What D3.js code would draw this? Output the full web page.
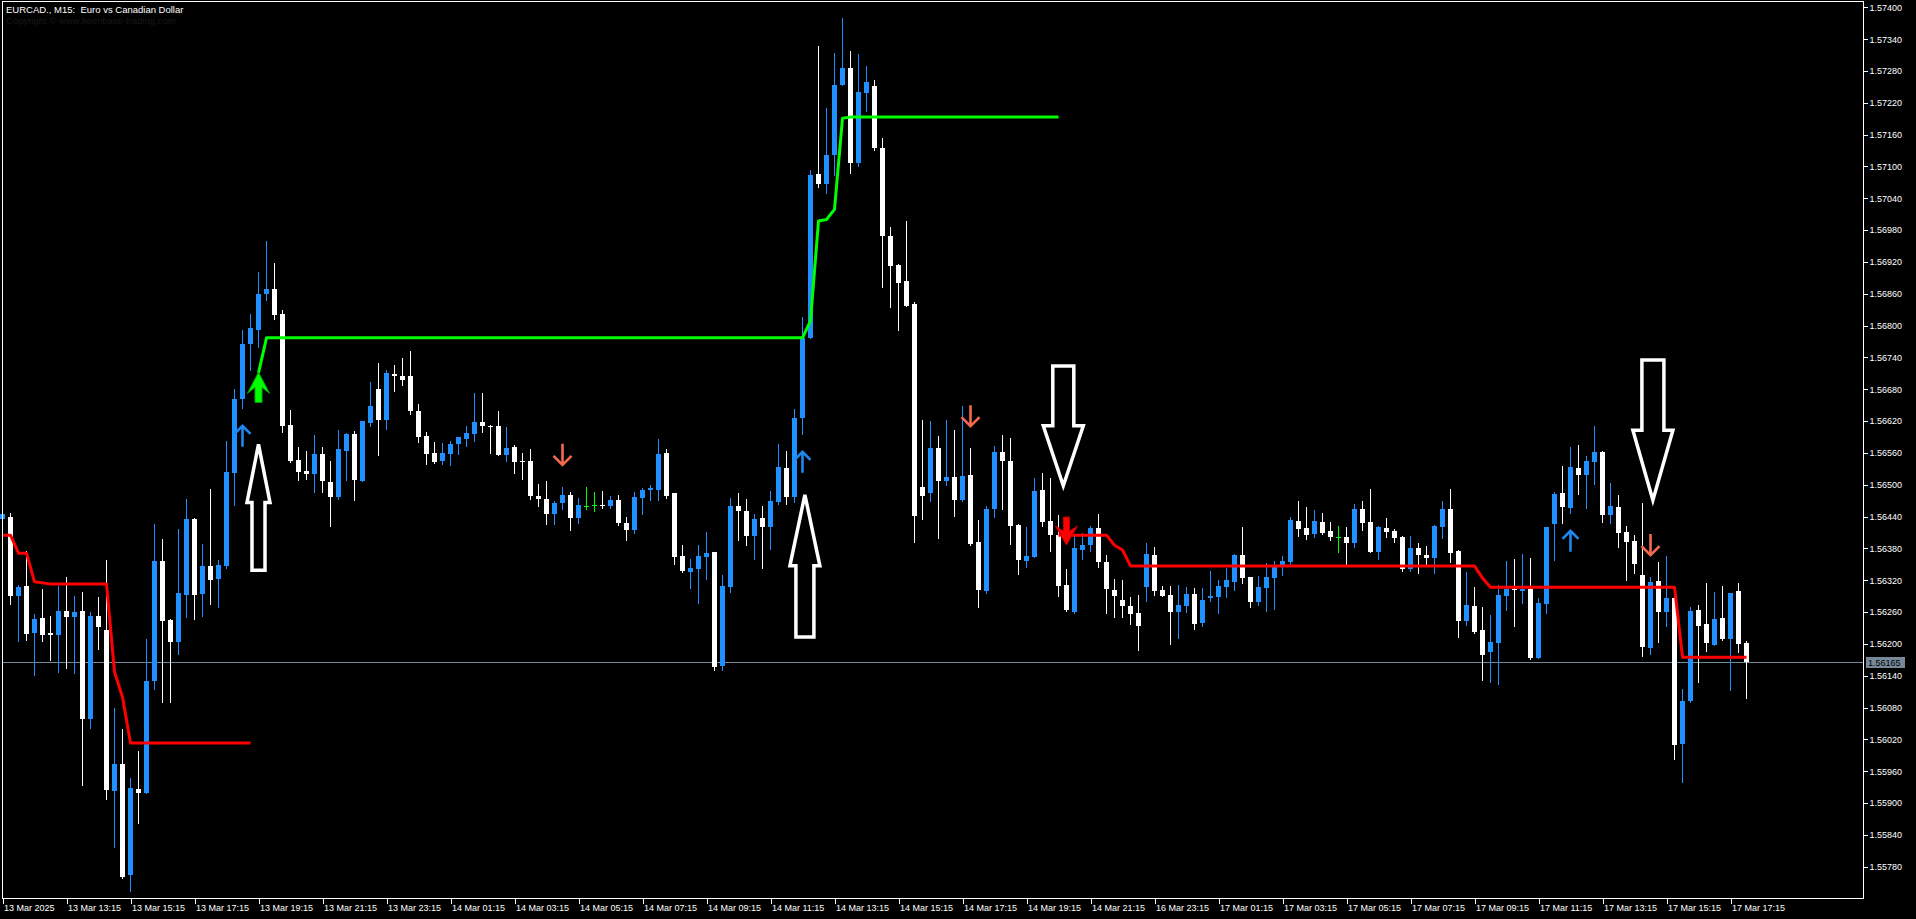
<!DOCTYPE html>
<html><head><meta charset="utf-8">
<script src="https://cdn.jsdelivr.net/npm/d3@7"></script>
<style>html,body{margin:0;padding:0;background:#000;overflow:hidden}text{font-family:"Liberation Sans",Arial,sans-serif}</style>
</head><body><svg id="c" width="1916" height="919"></svg>
<script>
const symbolTitle = "EURCAD., M15:  Euro vs Canadian Dollar";
const copyrightText = "Copyright \u00a9 www.keenbase-trading.com";
const opens = [
1.56435,1.56439,1.56290,1.56309,1.56221,1.56249,1.56221,1.56217,1.56262,1.56251,
1.56262,1.56058,1.56253,1.56226,1.55923,1.55974,1.55764,1.55926,1.55919,1.56130,
1.56356,1.56245,1.56204,1.56292,1.56435,1.56294,1.56347,1.56322,1.56347,1.56522,
1.56662,1.56765,1.56791,1.56860,1.56869,1.56822,1.56613,1.56547,1.56526,1.56520,
1.56558,1.56505,1.56477,1.56564,1.56596,1.56507,1.56617,1.56680,1.56622,1.56709,
1.56705,1.56705,1.56639,1.56592,1.56560,1.56545,1.56558,1.56577,1.56586,1.56596,
1.56618,1.56611,1.56611,1.56556,1.56571,1.56545,1.56545,1.56479,1.56473,1.56445,
1.56466,1.56481,1.56437,1.56460,1.56462,1.56462,1.56460,1.56471,1.56428,1.56415,
1.56475,1.56490,1.56490,1.56560,1.56484,1.56366,1.56335,1.56341,1.56364,1.56373,
1.56158,1.56307,1.56460,1.56450,1.56403,1.56437,1.56420,1.56467,1.56532,1.56477,
1.56626,1.56777,1.57086,1.57067,1.57122,1.57254,1.57286,1.57107,1.57238,1.57252,
1.57135,1.56969,1.56914,1.56884,1.56841,1.56496,1.56484,1.56569,1.56507,1.56515,
1.56471,1.56518,1.56392,1.56300,1.56454,1.56562,1.56545,1.56424,1.56356,1.56364,
1.56490,1.56432,1.56405,1.56311,1.56260,1.56377,1.56386,1.56418,1.56354,1.56302,
1.56283,1.56271,1.56258,1.56307,1.56367,1.56302,1.56292,1.56260,1.56271,1.56294,
1.56239,1.56287,1.56288,1.56307,1.56317,1.56367,1.56326,1.56279,1.56305,1.56324,
1.56345,1.56354,1.56432,1.56418,1.56407,1.56430,1.56413,1.56401,1.56401,1.56390,
1.56454,1.56430,1.56373,1.56418,1.56413,1.56401,1.56341,1.56381,1.56367,1.56362,
1.56420,1.56454,1.56375,1.56243,1.56271,1.56226,1.56185,1.56202,1.56290,1.56304,
1.56300,1.56304,1.56174,1.56275,1.56426,1.56484,1.56456,1.56532,1.56518,1.56543,
1.56562,1.56443,1.56458,1.56411,1.56394,1.56330,1.56192,1.56318,1.56260,1.56287,
1.56011,1.56092,1.56264,1.56237,1.56198,1.56249,1.56209,1.56300,1.56202];
const highs = [
1.56452,1.56447,1.56311,1.56375,1.56257,1.56304,1.56253,1.56309,1.56326,1.56290,
1.56298,1.56260,1.56288,1.56358,1.56079,1.56040,1.55947,1.55998,1.56209,1.56426,
1.56398,1.56246,1.56417,1.56473,1.56437,1.56388,1.56492,1.56358,1.56582,1.56680,
1.56792,1.56822,1.56901,1.56960,1.56918,1.56829,1.56641,1.56571,1.56564,1.56594,
1.56571,1.56545,1.56604,1.56598,1.56602,1.56621,1.56694,1.56729,1.56716,1.56726,
1.56739,1.56752,1.56652,1.56600,1.56581,1.56579,1.56582,1.56590,1.56611,1.56673,
1.56673,1.56613,1.56639,1.56609,1.56575,1.56560,1.56567,1.56501,1.56507,1.56469,
1.56496,1.56486,1.56475,1.56496,1.56486,1.56488,1.56479,1.56481,1.56439,1.56486,
1.56494,1.56499,1.56586,1.56567,1.56485,1.56386,1.56360,1.56386,1.56411,1.56374,
1.56330,1.56475,1.56484,1.56473,1.56445,1.56460,1.56488,1.56577,1.56564,1.56643,
1.56816,1.57094,1.57327,1.57210,1.57314,1.57380,1.57318,1.57312,1.57289,1.57263,
1.57154,1.56986,1.56916,1.56997,1.56844,1.56622,1.56620,1.56592,1.56622,1.56603,
1.56648,1.56569,1.56433,1.56460,1.56573,1.56594,1.56588,1.56426,1.56420,1.56513,
1.56522,1.56513,1.56443,1.56341,1.56403,1.56409,1.56422,1.56445,1.56367,1.56322,
1.56320,1.56288,1.56292,1.56390,1.56383,1.56309,1.56309,1.56311,1.56307,1.56305,
1.56305,1.56337,1.56320,1.56343,1.56369,1.56420,1.56327,1.56328,1.56352,1.56356,
1.56366,1.56439,1.56469,1.56458,1.56452,1.56447,1.56430,1.56422,1.56420,1.56464,
1.56469,1.56492,1.56422,1.56437,1.56416,1.56403,1.56403,1.56390,1.56384,1.56424,
1.56469,1.56492,1.56377,1.56335,1.56307,1.56270,1.56255,1.56311,1.56356,1.56360,
1.56369,1.56362,1.56286,1.56420,1.56486,1.56535,1.56571,1.56575,1.56554,1.56611,
1.56563,1.56503,1.56481,1.56422,1.56405,1.56466,1.56326,1.56354,1.56366,1.56288,
1.56115,1.56270,1.56273,1.56315,1.56298,1.56309,1.56296,1.56315,1.56205];
const lows = [
1.56430,1.56275,1.56206,1.56208,1.56142,1.56206,1.56170,1.56147,1.56155,1.56145,
1.55934,1.56041,1.56190,1.55908,1.55817,1.55759,1.55734,1.55862,1.55918,1.56115,
1.56090,1.56090,1.56181,1.56251,1.56247,1.56253,1.56275,1.56270,1.56343,1.56462,
1.56645,1.56716,1.56759,1.56848,1.56812,1.56600,1.56543,1.56509,1.56511,1.56486,
1.56486,1.56422,1.56473,1.56509,1.56471,1.56507,1.56611,1.56556,1.56605,1.56677,
1.56688,1.56633,1.56581,1.56539,1.56541,1.56539,1.56537,1.56558,1.56573,1.56582,
1.56600,1.56560,1.56556,1.56545,1.56522,1.56511,1.56473,1.56460,1.56426,1.56426,
1.56454,1.56414,1.56428,1.56454,1.56450,1.56456,1.56456,1.56424,1.56396,1.56409,
1.56445,1.56471,1.56471,1.56475,1.56350,1.56335,1.56305,1.56277,1.56322,1.56150,
1.56150,1.56298,1.56396,1.56386,1.56360,1.56343,1.56379,1.56464,1.56464,1.56467,
1.56596,1.56776,1.57061,1.57050,1.57084,1.57253,1.57088,1.57101,1.57205,1.57131,
1.56873,1.56835,1.56791,1.56837,1.56392,1.56435,1.56469,1.56400,1.56499,1.56441,
1.56470,1.56387,1.56270,1.56296,1.56439,1.56454,1.56388,1.56331,1.56345,1.56363,
1.56422,1.56375,1.56290,1.56262,1.56259,1.56360,1.56375,1.56345,1.56258,1.56251,
1.56251,1.56237,1.56189,1.56281,1.56292,1.56290,1.56200,1.56211,1.56260,1.56228,
1.56234,1.56281,1.56258,1.56288,1.56302,1.56315,1.56270,1.56273,1.56262,1.56266,
1.56330,1.56349,1.56403,1.56398,1.56401,1.56408,1.56396,1.56373,1.56350,1.56383,
1.56415,1.56373,1.56360,1.56401,1.56392,1.56337,1.56337,1.56333,1.56347,1.56333,
1.56399,1.56354,1.56213,1.56236,1.56221,1.56132,1.56128,1.56124,1.56264,1.56234,
1.56277,1.56172,1.56173,1.56258,1.56358,1.56428,1.56447,1.56482,1.56456,1.56501,
1.56430,1.56428,1.56382,1.56320,1.56333,1.56177,1.56181,1.56204,1.56234,1.55983,
1.55940,1.56091,1.56128,1.56187,1.56197,1.56208,1.56113,1.56185,1.56098];
const closes = [
1.56445,1.56290,1.56307,1.56219,1.56247,1.56217,1.56217,1.56262,1.56251,1.56260,
1.56058,1.56253,1.56232,1.55925,1.55974,1.55761,1.55928,1.55919,1.56130,1.56356,
1.56243,1.56204,1.56296,1.56435,1.56292,1.56347,1.56320,1.56349,1.56524,1.56662,
1.56765,1.56795,1.56860,1.56869,1.56820,1.56611,1.56544,1.56524,1.56520,1.56558,
1.56507,1.56477,1.56567,1.56596,1.56509,1.56620,1.56648,1.56622,1.56710,1.56705,
1.56697,1.56639,1.56590,1.56558,1.56543,1.56560,1.56577,1.56590,1.56598,1.56618,
1.56611,1.56609,1.56556,1.56569,1.56543,1.56543,1.56479,1.56473,1.56445,1.56466,
1.56481,1.56437,1.56462,1.56460,1.56462,1.56460,1.56471,1.56428,1.56415,1.56477,
1.56490,1.56494,1.56558,1.56479,1.56364,1.56337,1.56343,1.56366,1.56371,1.56156,
1.56309,1.56460,1.56450,1.56403,1.56435,1.56420,1.56469,1.56533,1.56477,1.56626,
1.56777,1.57083,1.57067,1.57122,1.57254,1.57286,1.57107,1.57240,1.57259,1.57135,
1.56969,1.56912,1.56880,1.56837,1.56441,1.56479,1.56569,1.56507,1.56515,1.56471,
1.56516,1.56388,1.56302,1.56454,1.56562,1.56545,1.56422,1.56358,1.56366,1.56488,
1.56430,1.56405,1.56309,1.56263,1.56381,1.56386,1.56418,1.56354,1.56304,1.56290,
1.56271,1.56256,1.56234,1.56369,1.56300,1.56291,1.56260,1.56273,1.56294,1.56237,
1.56283,1.56290,1.56309,1.56320,1.56368,1.56324,1.56279,1.56307,1.56326,1.56345,
1.56356,1.56433,1.56416,1.56405,1.56432,1.56409,1.56401,1.56401,1.56390,1.56454,
1.56428,1.56373,1.56420,1.56411,1.56399,1.56341,1.56381,1.56367,1.56362,1.56422,
1.56454,1.56371,1.56243,1.56273,1.56223,1.56179,1.56204,1.56292,1.56304,1.56302,
1.56304,1.56174,1.56277,1.56420,1.56482,1.56458,1.56533,1.56518,1.56545,1.56562,
1.56443,1.56460,1.56409,1.56392,1.56350,1.56194,1.56317,1.56260,1.56287,1.56009,
1.56092,1.56262,1.56234,1.56202,1.56247,1.56209,1.56296,1.56200,1.56165];

const timeLabels = ["13 Mar 2025","13 Mar 13:15","13 Mar 15:15","13 Mar 17:15","13 Mar 19:15","13 Mar 21:15","13 Mar 23:15",
"14 Mar 01:15","14 Mar 03:15","14 Mar 05:15","14 Mar 07:15","14 Mar 09:15","14 Mar 11:15","14 Mar 13:15","14 Mar 15:15",
"14 Mar 17:15","14 Mar 19:15","14 Mar 21:15","16 Mar 23:15","17 Mar 01:15","17 Mar 03:15","17 Mar 05:15","17 Mar 07:15",
"17 Mar 09:15","17 Mar 11:15","17 Mar 13:15","17 Mar 15:15","17 Mar 17:15"];
const priceTicks = [1.57400,1.57340,1.57280,1.57220,1.57160,1.57100,1.57040,1.56980,1.56920,1.56860,1.56800,1.56740,1.56680,
1.56620,1.56560,1.56500,1.56440,1.56380,1.56320,1.56260,1.56200,1.56140,1.56080,1.56020,1.55960,1.55900,1.55840,1.55780];
const lastPrice = 1.56165;

// trend-stop indicator lines: [bar, price]
const redLine1 = [[0,1.56405],[1,1.56405],[2,1.56371],[3,1.56371],[4,1.56317],[5,1.56315],[6,1.56313],[13,1.56313],
[14,1.56147],[15,1.56100],[16,1.56013],[31,1.56013]];
const redLine2 = [[132,1.56405],[138,1.56405],[139,1.56386],[140,1.56377],[141,1.56347],[184,1.56347],[185,1.56324],
[186,1.56307],[209,1.56307],[210,1.56175],[218,1.56175]];
const greenLine = [[32,1.56711],[33,1.56777],[100,1.56777],[101,1.56809],[102,1.56997],[103,1.57000],[104,1.57019],
[105,1.57191],[106,1.57193],[132,1.57193]];

const buyArrowBars = [30,100,196];
const sellArrowBars = [70,121,206];
const bigBuyBars = [32];
const bigSellBars = [133];
// hand-drawn hollow annotation arrows: bar, tip price, tail price
const annoBars = [32, 100.3, 132.6, 206.3];
const annoTips = [1.56576, 1.56481, 1.56498, 1.56471];
const annoTails = [1.56339, 1.56213, 1.56724, 1.56735];

const svg = d3.select('#c');
svg.append('rect').attr('width',1916).attr('height',919).attr('fill','#000');

const x = d3.scaleLinear().domain([0, 232.5]).range([2.5, 1862.5]);
const y = d3.scaleLinear().domain([1.5578, 1.5740]).range([866.7, 7.3]);

const plot = svg.append('g');
// current price line
plot.append('line').attr('x1',2).attr('x2',1863).attr('y1',Math.round(y(lastPrice))+0.5).attr('y2',Math.round(y(lastPrice))+0.5)
  .attr('stroke','#778899').attr('stroke-width',1);

const bars = opens.map((o,i)=>({i,o,h:highs[i],l:lows[i],c:closes[i]}));
const colOf = d => d.c > d.o ? '#1E90FF' : (d.c < d.o ? '#FFFFFF' : '#00FF00');
const cg = plot.append('g').attr('shape-rendering','crispEdges');
cg.selectAll('line.wick').data(bars).join('line').attr('class','wick')
  .attr('x1',d=>x(d.i)).attr('x2',d=>x(d.i))
  .attr('y1',d=>Math.round(y(d.h))).attr('y2',d=>Math.round(y(d.l))+1)
  .attr('stroke',colOf).attr('stroke-width',1);
cg.selectAll('rect.body').data(bars).join('rect').attr('class','body')
  .attr('x',d=>x(d.i)-2.5).attr('width',5)
  .attr('y',d=>Math.round(y(Math.max(d.o,d.c))))
  .attr('height',d=>Math.max(1, Math.round(y(Math.min(d.o,d.c))) - Math.round(y(Math.max(d.o,d.c)))))
  .attr('fill',colOf);

const line = d3.line().x(d=>x(d[0])).y(d=>y(d[1]));
[[redLine1,'#FF0000'],[redLine2,'#FF0000'],[greenLine,'#00FF00']].forEach(([pts,col])=>{
  plot.append('path').attr('d',line(pts)).attr('fill','none').attr('stroke',col).attr('stroke-width',3).attr('stroke-linejoin','round');
});

// small signal arrows
const ag = plot.append('g');
buyArrowBars.forEach(b=>{
  const cx = x(b), ty = y(lows[b]) + 18;
  ag.append('path').attr('d',`M${cx},${ty+21}L${cx},${ty+1}M${cx-8},${ty+8}L${cx},${ty}L${cx+8},${ty+8}`)
    .attr('fill','none').attr('stroke','#1E88F0').attr('stroke-width',2.6);
});
sellArrowBars.forEach(b=>{
  const cx = x(b), ty = y(highs[b]) - 22;
  ag.append('path').attr('d',`M${cx},${ty-21}L${cx},${ty-1}M${cx-9},${ty-9}L${cx},${ty}L${cx+9},${ty-9}`)
    .attr('fill','none').attr('stroke','#F4694D').attr('stroke-width',2.6);
});
bigBuyBars.forEach(b=>{
  const cx = x(b), t = y(lows[b]) + 25;
  const pts = [[0,0],[11,21],[3.5,15],[3.5,30],[-3.5,30],[-3.5,15],[-11,21]].map(p=>[cx+p[0],t+p[1]]);
  ag.append('polygon').attr('points',pts.map(p=>p.join(',')).join(' ')).attr('fill','#00FF00').attr('stroke','#00B000').attr('stroke-width',1);
});
bigSellBars.forEach(b=>{
  const cx = x(b), t = y(highs[b]) - 24;
  const pts = [[0,0],[11,-19],[3,-14],[3,-28],[-3,-28],[-3,-14],[-11,-19]].map(p=>[cx+p[0],t+p[1]]);
  ag.append('polygon').attr('points',pts.map(p=>p.join(',')).join(' ')).attr('fill','#FF0000').attr('stroke','#C00000').attr('stroke-width',1);
});

// hollow annotation arrows
const annoStyle = [{hw:23,hh:58,sw:13},{hw:30,hh:71,sw:18},{hw:40,hh:60,sw:21},{hw:40,hh:70,sw:22}];
annoBars.forEach((b,k)=>{
  const cx = x(b), tip = y(annoTips[k]), tail = y(annoTails[k]);
  const s = annoStyle[k], dir = tail > tip ? 1 : -1;
  const base = tip + dir*s.hh;
  const pts = [[cx,tip],[cx+s.hw/2,base],[cx+s.sw/2,base],[cx+s.sw/2,tail],[cx-s.sw/2,tail],[cx-s.sw/2,base],[cx-s.hw/2,base]];
  ag.append('polygon').attr('points',pts.map(p=>p.join(',')).join(' '))
    .attr('fill','#000').attr('stroke','#FFFFFF').attr('stroke-width',3.5).attr('stroke-linejoin','miter');
});

// frame
svg.append('rect').attr('x',2.5).attr('y',1.5).attr('width',1861).attr('height',897)
  .attr('fill','none').attr('stroke','#FFFFFF').attr('stroke-width',1).attr('shape-rendering','crispEdges');

// axes
const yAxis = d3.axisRight(y).tickValues(priceTicks).tickFormat(d3.format('.5f')).tickSize(4).tickPadding(2);
const ya = svg.append('g').attr('transform','translate(1863.5,0)').call(yAxis);
ya.select('.domain').remove();
ya.selectAll('line').attr('stroke','#fff').attr('shape-rendering','crispEdges');
ya.selectAll('text').attr('fill','#fff').attr('font-size','9px').attr('font-family','Liberation Sans, Arial, sans-serif');

const tickBars = timeLabels.map((_,k)=>k*8);
const xAxis = d3.axisBottom(x).tickValues(tickBars).tickFormat((d,k)=>timeLabels[k]).tickSize(5).tickPadding(1);
const xa = svg.append('g').attr('transform','translate(0,898.5)').call(xAxis);
xa.select('.domain').remove();
xa.selectAll('line').attr('stroke','#fff').attr('shape-rendering','crispEdges');
xa.selectAll('text').attr('fill','#fff').attr('font-size','9px').attr('text-anchor','start').attr('dx','1px')
  .attr('font-family','Liberation Sans, Arial, sans-serif');

// last price label
const lp = y(lastPrice);
svg.append('rect').attr('x',1866).attr('y',Math.round(lp)-5).attr('width',39).attr('height',11).attr('fill','#778899');
svg.append('text').attr('x',1868).attr('y',Math.round(lp)+3.5).attr('fill','#000').attr('font-size','9px').text(d3.format('.5f')(lastPrice));

// title
svg.append('text').attr('x',6).attr('y',13).attr('fill','#fff').attr('font-size','9.5px').style('white-space','pre').text(symbolTitle);
svg.append('text').attr('x',6).attr('y',24).attr('fill','#181818').attr('font-size','9.5px').text(copyrightText);
</script>
</body></html>
